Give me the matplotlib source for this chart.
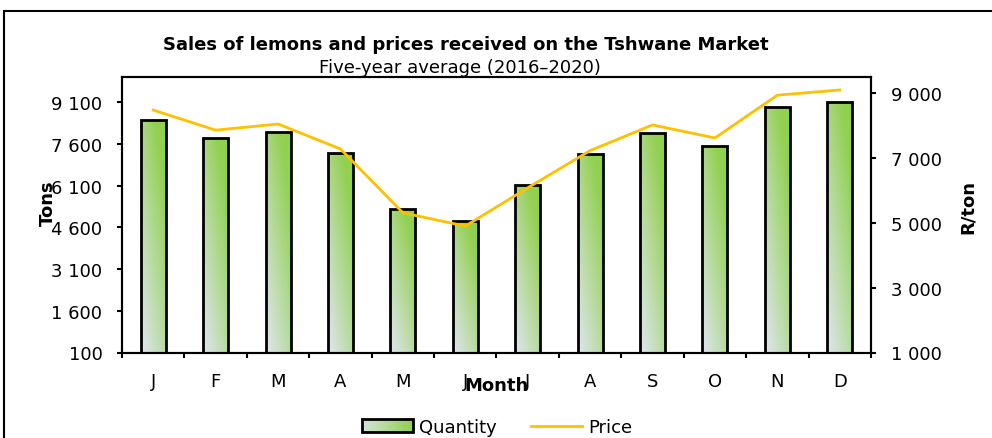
import matplotlib
matplotlib.use("Agg")
import matplotlib.pyplot as plt
import numpy as np
from matplotlib.patches import Rectangle
from matplotlib.lines import Line2D
from matplotlib.colors import to_rgb

months = ["J", "F", "M", "A", "M", "J", "J", "A", "S", "O", "N", "D"]
quantity = [8470, 7800, 8020, 7260, 5240, 4820, 6110, 7250, 7990, 7520, 8930, 9100]
price = [8480, 7860, 8050, 7280, 5310, 4900, 6080, 7230, 8020, 7620, 8940, 9100]

left_ticks = [100, 1600, 3100, 4600, 6100, 7600, 9100]
right_ticks = [1000, 3000, 5000, 7000, 9000]

light = np.array(to_rgb("#dfe6ef"))
green = np.array(to_rgb("#92d050"))
line_col = "#ffc000"

plt.rcParams['font.family'] = ['DejaVu Sans']
FS = 13


def fmt(v):
    return f"{v:,}".replace(",", " ")


def gradient(nx=20, ny=200):
    u = np.linspace(0, 1, nx)[None, :]
    v = np.linspace(0, 1, ny)[:, None]
    t = np.clip((u + 1.4 * v) / 2.0, 0, 1)[..., None]
    return light * (1 - t) + green * t


class GradientHandler:
    def legend_artist(self, legend, orig_handle, fontsize, handlebox):
        x0, y0 = handlebox.xdescent, handlebox.ydescent
        w, h = handlebox.width, handlebox.height
        n = 30
        for i in range(n):
            t = 0.15 + 0.85 * i / (n - 1)
            c = light * (1 - t) + green * t
            r = Rectangle((x0 + w * i / n, y0), w / n + 0.3, h, facecolor=c,
                          edgecolor='none', transform=handlebox.get_transform())
            handlebox.add_artist(r)
        outline = Rectangle((x0, y0), w, h, facecolor='none', edgecolor='black',
                            lw=2, transform=handlebox.get_transform())
        handlebox.add_artist(outline)
        return outline


fig = plt.figure(figsize=(9.92, 4.39), dpi=100)
ax = fig.add_axes([122 / 992, 1 - 353.5 / 439, 749 / 992, 275.5 / 439])
ax2 = ax.twinx()

x = np.arange(len(months))
bars = ax.bar(x, quantity, width=0.4, bottom=0, facecolor='none',
              edgecolor='black', linewidth=2.0, zorder=3)
img = gradient()
for b in bars:
    bx, by = b.get_x(), b.get_y()
    ax.imshow(img, extent=[bx, bx + b.get_width(), 100, by + b.get_height()],
              origin='lower', aspect='auto', interpolation='bilinear', zorder=2)

ax.set_xlim(-0.5, len(months) - 0.5)
ax.set_ylim(100, 10000)
ax.set_yticks(left_ticks)
ax.set_yticklabels([fmt(v) for v in left_ticks])

ax2.plot(x, price, color=line_col, lw=2)
ax2.set_ylim(1000, 9500)
ax2.set_yticks(right_ticks)
ax2.set_yticklabels([fmt(v) for v in right_ticks])

ax.set_xticks(np.arange(-0.5, len(months), 1.0))
ax.set_xticklabels([])
ax.set_xticks(x, minor=True)
ax.set_xticklabels(months, minor=True)
ax.tick_params(axis='x', which='major', length=3.6, width=1.5, direction='out')
ax.tick_params(axis='x', which='minor', length=0, pad=14, labelsize=FS)
ax.tick_params(axis='y', length=3.6, width=1.5, pad=10.5, labelsize=FS)
ax2.tick_params(axis='y', length=3.6, width=1.5, pad=10.5, labelsize=FS)

for a in (ax, ax2):
    for s in a.spines.values():
        s.set_linewidth(1.5)
        s.set_color('black')

fig.text(466 / 992, 1 - 45 / 439, "Sales of lemons and prices received on the Tshwane Market",
         ha='center', va='center', fontsize=FS, fontweight='bold')
fig.text(460 / 992, 1 - 68 / 439, "Five-year average (2016\u20132020)",
         ha='center', va='center', fontsize=FS, zorder=10)
fig.text(48 / 992, 1 - 203 / 439, "Tons", rotation=90, ha='center', va='center',
         fontsize=FS, fontweight='bold')
fig.text(968 / 992, 1 - 207 / 439, "R/ton", rotation=90, ha='center', va='center',
         fontsize=FS, fontweight='bold')
fig.text(497 / 992, 1 - 386 / 439, "Month", ha='center', va='center',
         fontsize=FS, fontweight='bold', zorder=10)

fig.patches.append(Rectangle((4 / 992, -0.1), 1.2, 1 - 12 / 439 + 0.1,
                             transform=fig.transFigure, facecolor='none',
                             edgecolor='black', lw=1.5))

handles = [Rectangle((0, 0), 1, 1), Line2D([0], [0], color=line_col, lw=2)]
fig.legend(handles, ["Quantity", "Price"], loc='center',
           bbox_to_anchor=(497 / 992, 1 - 428 / 439), ncol=2, frameon=False,
           fontsize=FS, handlelength=2.8, handletextpad=0.35, columnspacing=1.9,
           handler_map={Rectangle: GradientHandler()})

fig.savefig("out.png", dpi=100)
